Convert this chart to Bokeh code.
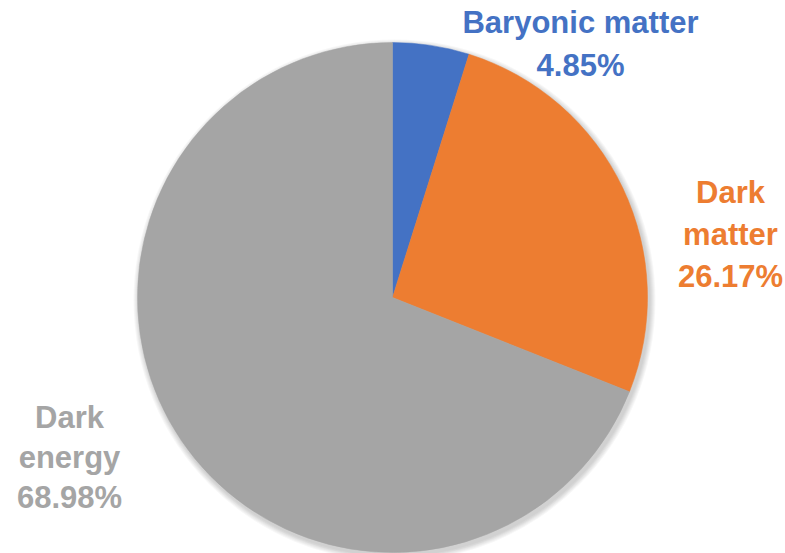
import math
from bokeh.plotting import figure
from bokeh.models import ColumnDataSource, Range1d
from bokeh.core.properties import value
from bokeh.embed import file_html
from bokeh.resources import INLINE

categories = ["Baryonic matter", "Dark matter", "Dark energy"]
shares = [4.85, 26.17, 68.98]
colors = ["#4472C4", "#ED7D31", "#A5A5A5"]
label_lines = [["Baryonic matter"], ["Dark", "matter"], ["Dark", "energy"]]

W, H = 785, 553
p = figure(width=W, height=H, output_backend="svg", toolbar_location=None,
           x_range=Range1d(0, W), y_range=Range1d(0, H), min_border=0)
p.axis.visible = False
p.grid.visible = False
p.outline_line_color = None
p.background_fill_color = "white"
p.border_fill_color = "white"

cx, cy, r = 392, 553 - 297, 255

# soft shadow
for k in range(6):
    p.circle(x=[cx + 2], y=[cy - 3], radius=r + 6 - k, fill_color="black",
             fill_alpha=0.03, line_color=None)

total = sum(shares)
starts, ends = [], []
a = math.pi / 2
for s in shares:
    starts.append(a)
    a -= 2 * math.pi * s / total
    ends.append(a)

src = ColumnDataSource(dict(start=starts, end=ends, color=colors, cat=categories))
p.wedge(x=cx, y=cy, radius=r, start_angle="start", end_angle="end",
        direction="clock", fill_color="color", line_color="color", line_width=0.5,
        source=src)

# label anchors: (center x, first baseline in pixels), line spacing
anchors = [(580, 22), (730, 192), (69, 417)]
spacing = [43, 42, 40]
xs, ys, txt, cols = [], [], [], []
for i, cat in enumerate(categories):
    lines = label_lines[i] + [f"{shares[i]:.2f}%"]
    ax, ay = anchors[i]
    for j, line in enumerate(lines):
        xs.append(ax)
        ys.append(H - (ay + j * spacing[i]))
        txt.append(line)
        cols.append(colors[i])

p.text(x=xs, y=ys, text=txt, text_color=cols, text_align="center",
       text_baseline="alphabetic", text_font=value("Liberation Sans"),
       text_font_style="bold", text_font_size="31px")

open("out.html", "w").write(file_html(p, INLINE))
